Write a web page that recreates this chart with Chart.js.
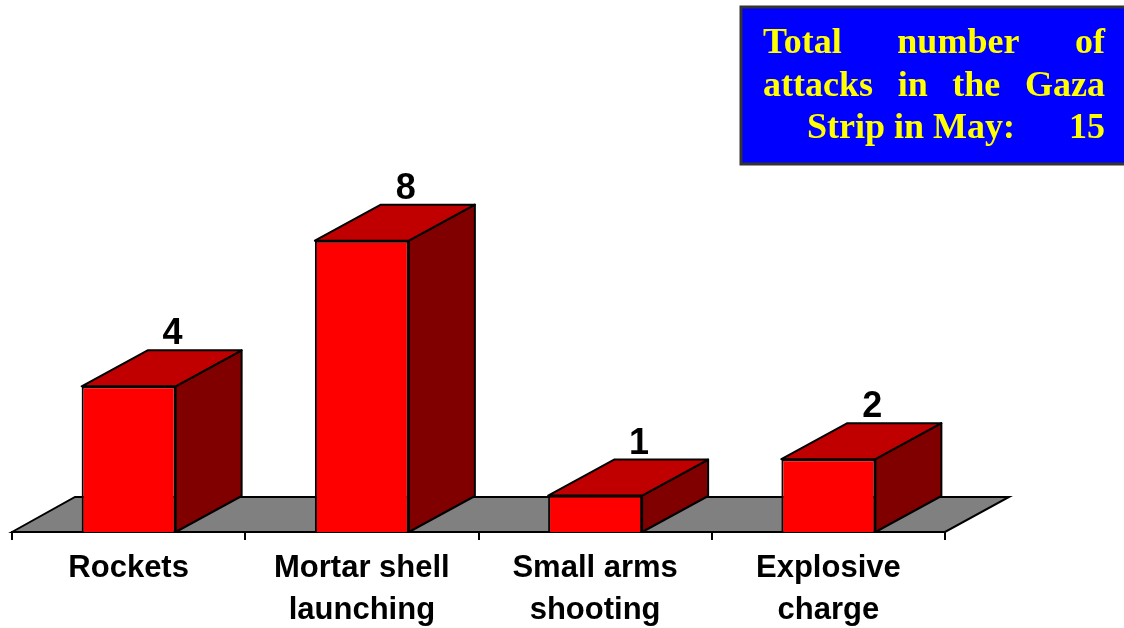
<!DOCTYPE html>
<html lang="en">

<head>
    <meta charset="UTF-8">
    <title>Attacks in the Gaza Strip</title>
    <script src="https://cdn.jsdelivr.net/npm/chart.js@4.4.1/dist/chart.umd.min.js"></script>
    <style>
        body { margin: 0; background: #fff; }
        #wrap { width: 1124px; height: 628px; position: relative; }
    </style>
</head>

<body>
    <div id="wrap"><canvas id="myChart"></canvas></div>
    <script>

        const categories = [['Rockets'], ['Mortar shell', 'launching'], ['Small arms', 'shooting'], ['Explosive', 'charge']];
        const attacks = [4, 8, 1, 2];
        const boxLines = ['Total number of', 'attacks in the Gaza'];
        const boxLast = ['Strip in May:', '15'];

        const depthX = 66, depthY = -36;

        // grey floor under the bars
        const floorPlugin = {
            id: 'floor',
            beforeDatasetsDraw(chart) {
                const ctx = chart.ctx, a = chart.chartArea;
                ctx.save();
                ctx.beginPath();
                ctx.moveTo(a.left, a.bottom);
                ctx.lineTo(a.left + 63, a.bottom - 35);
                ctx.lineTo(a.right + 64, a.bottom - 35);
                ctx.lineTo(a.right, a.bottom);
                ctx.closePath();
                ctx.fillStyle = '#808080';
                ctx.fill();
                ctx.lineWidth = 2;
                ctx.strokeStyle = '#000';
                ctx.stroke();
                ctx.restore();
            }
        };

        function face(ctx, pts, color) {
            ctx.beginPath();
            ctx.moveTo(pts[0][0], pts[0][1]);
            for (let i = 1; i < pts.length; i++) ctx.lineTo(pts[i][0], pts[i][1]);
            ctx.closePath();
            ctx.fillStyle = color;
            ctx.fill();
            ctx.stroke();
        }

        // top and side faces + value labels
        const boxPlugin = {
            id: 'box3d',
            afterDatasetsDraw(chart) {
                const ctx = chart.ctx;
                const meta = chart.getDatasetMeta(0);
                ctx.save();
                ctx.lineWidth = 2;
                ctx.lineJoin = 'round';
                ctx.strokeStyle = '#000';
                meta.data.forEach(function (bar, i) {
                    const l = bar.x - bar.width / 2, r = bar.x + bar.width / 2;
                    const t = bar.y, b = bar.base;
                    face(ctx, [[r, t], [r + depthX, t + depthY], [r + depthX, b + depthY], [r, b]], '#800000');
                    face(ctx, [[l, t], [l + depthX, t + depthY], [r + depthX, t + depthY], [r, t]], '#C00000');
                    ctx.fillStyle = '#000';
                    ctx.font = 'bold 36px Arial, "Liberation Sans"';
                    ctx.textAlign = 'center';
                    ctx.textBaseline = 'alphabetic';
                    ctx.fillText(String(attacks[i]), bar.x + 44, t + depthY - 6);
                });
                ctx.restore();
            },
            afterDraw(chart) {
                const ctx = chart.ctx;
                ctx.save();
                ctx.fillStyle = '#0000FF';
                ctx.fillRect(741, 7, 400, 157);
                ctx.strokeStyle = '#333';
                ctx.lineWidth = 3;
                ctx.strokeRect(741, 7, 400, 157);
                ctx.fillStyle = '#FFFF00';
                ctx.font = 'bold 36px "Times New Roman", "Liberation Serif"';
                ctx.textBaseline = 'alphabetic';
                const left = 763, right = 1105;
                const baselines = [53, 96, 138];
                boxLines.forEach(function (line, k) {
                    const words = line.split(' ');
                    const widths = words.map(function (w) { return ctx.measureText(w).width; });
                    const sum = widths.reduce(function (s, w) { return s + w; }, 0);
                    const gap = (right - left - sum) / (words.length - 1);
                    let x = left;
                    ctx.textAlign = 'left';
                    words.forEach(function (w, j) {
                        ctx.fillText(w, x, baselines[k]);
                        x += widths[j] + gap;
                    });
                });
                ctx.textAlign = 'left';
                ctx.fillText(boxLast[0], 807, baselines[2]);
                ctx.textAlign = 'right';
                ctx.fillText(boxLast[1], right, baselines[2]);
                ctx.restore();
            }
        };

        const ctx = document.getElementById('myChart').getContext('2d');

        const myChart = new Chart(ctx, {
            type: 'bar',
            data: {
                labels: categories,
                datasets: [{
                    data: attacks,
                    backgroundColor: '#FF0000',
                    borderColor: '#000',
                    borderWidth: 2,
                    categoryPercentage: 1,
                    barPercentage: 0.403
                }]
            },
            options: {
                responsive: true,
                maintainAspectRatio: false,
                animation: false,
                layout: { padding: { left: 12, right: 179, top: 95, bottom: 0 } },
                plugins: {
                    legend: { display: false },
                    tooltip: { enabled: false }
                },
                scales: {
                    y: { display: false, min: 0, max: 12 },
                    x: {
                        afterFit: function (scale) { scale.height = 96; },
                        border: { display: true, color: '#000', width: 2 },
                        grid: { drawOnChartArea: false, drawTicks: true, tickLength: 8, color: '#000', lineWidth: 2 },
                        ticks: {
                            color: '#000',
                            padding: 7,
                            maxRotation: 0,
                            font: { family: 'Arial, "Liberation Sans"', size: 31, weight: 'bold', lineHeight: 1.355 }
                        }
                    }
                }
            },
            plugins: [floorPlugin, boxPlugin]
        });

    </script>
</body>

</html>
